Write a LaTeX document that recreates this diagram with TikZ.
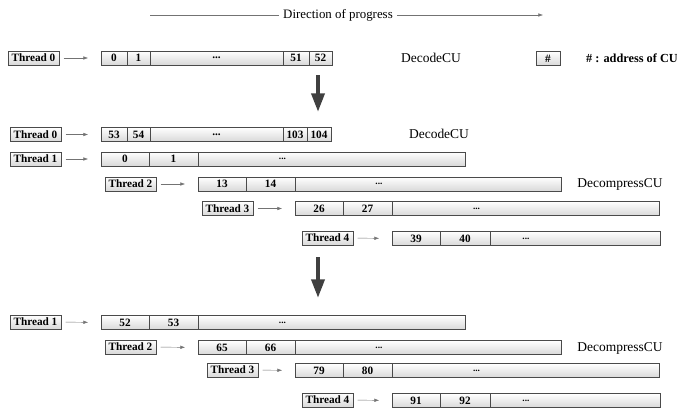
\documentclass[tikz,border=0pt]{standalone}
\usepackage{fontspec}
\setmainfont{Liberation Serif}
\usetikzlibrary{positioning,arrows.meta}
\definecolor{boxedge}{HTML}{4A4A4A}
\definecolor{arrowgray}{HTML}{404040}
\tikzset{
  cell/.style={draw=boxedge, top color=white, bottom color=black!15, minimum height=0.42cm,
    inner sep=0pt, outer sep=0pt, font=\fontsize{9.6}{11}\selectfont\bfseries},
  thread/.style={cell, inner xsep=3pt, anchor=west},
  flow/.style={draw=black!55, -{Latex[length=4pt,width=3pt]}, shorten <=4pt, shorten >=11pt},
  bigarrow/.style={draw=arrowgray, line width=3.5pt, -{Triangle[width=11pt,length=16pt]}},
  dots/.style={font=\footnotesize\bfseries, xshift=-1.47cm},
  cuname/.style={font=\fontsize{11.5}{13}\selectfont}
}
\begin{document}
\begin{tikzpicture}[x=0.03cm, y=-0.03cm]
  \useasboundingbox (0,0) rectangle (677,410);
  % direction of progress
  \node[font=\fontsize{11}{13}\selectfont] (dir) at (338,15) {Direction of progress};
  \coordinate (dirL) at (150,15);
  \coordinate (dirR) at (543,15);
  \draw[black!55] (dirL) -- (dir.west);
  \draw[black!55, -{Latex[length=4pt,width=3pt]}] (dir.east) -- (dirR);
  % legend
  \node[cell, minimum width=0.72cm] (lg) at (548,58.5) {\#};
  \node[anchor=west, font=\fontsize{10.5}{12}\selectfont\bfseries] (lgtext) at (582,58) {\# : address of CU};

  % stage 1
  \node[thread] (t1) at (8,58) {Thread 0};
  \node[cell, anchor=west, minimum width=0.78cm] (c1a) at (101,58) {0};
  \node[cell, minimum width=0.69cm, right=0pt of c1a] (c1b) {1};
  \node[cell, minimum width=3.99cm, right=0pt of c1b] (c1c) {...};
  \node[cell, minimum width=0.78cm, right=0pt of c1c] (c1d) {51};
  \node[cell, minimum width=0.69cm, right=0pt of c1d] (c1e) {52};
  \draw[flow] (t1) -- (c1a);
  \node[cuname] (cu1) at (431,58) {DecodeCU};

  \coordinate (s1a) at (318,75);
  \coordinate (s1b) at (318,112);
  \draw[bigarrow] (s1a) -- (s1b);

  % stage 2
  \node[thread] (t2) at (10,134.5) {Thread 0};
  \node[cell, anchor=west, minimum width=0.78cm] (c2a) at (101,134.5) {53};
  \node[cell, minimum width=0.69cm, right=0pt of c2a] (c2b) {54};
  \node[cell, minimum width=3.99cm, right=0pt of c2b] (c2c) {...};
  \node[cell, minimum width=0.72cm, right=0pt of c2c] (c2d) {103};
  \node[cell, minimum width=0.72cm, right=0pt of c2d] (c2e) {104};
  \draw[flow] (t2) -- (c2a);
  \node[cuname] (cu2) at (439,134) {DecodeCU};

  \node[thread] (t3) at (10,159) {Thread 1};
  \node[cell, anchor=west, minimum width=1.44cm] (c3a) at (101,159) {0};
  \node[cell, minimum width=1.47cm, right=0pt of c3a] (c3b) {1};
  \node[cell, minimum width=8.01cm, right=0pt of c3b, label={[dots]center:...}] (c3c) {};
  \draw[flow] (t3) -- (c3a);

  \node[thread] (t4) at (105,184) {Thread 2};
  \node[cell, anchor=west, minimum width=1.44cm] (c4a) at (198,184) {13};
  \node[cell, minimum width=1.47cm, right=0pt of c4a] (c4b) {14};
  \node[cell, minimum width=7.98cm, right=0pt of c4b, label={[dots]center:...}] (c4c) {};
  \draw[flow] (t4) -- (c4a);
  \node[cuname] (cu3) at (620,184) {DecompressCU};

  \node[thread] (t5) at (202,208.5) {Thread 3};
  \node[cell, anchor=west, minimum width=1.44cm] (c5a) at (295,208.5) {26};
  \node[cell, minimum width=1.47cm, right=0pt of c5a] (c5b) {27};
  \node[cell, minimum width=8.01cm, right=0pt of c5b, label={[dots]center:...}] (c5c) {};
  \draw[flow] (t5) -- (c5a);

  \node[thread] (t6) at (302,238) {Thread 4};
  \node[cell, anchor=west, minimum width=1.44cm] (c6a) at (392,238.5) {39};
  \node[cell, minimum width=1.5cm, right=0pt of c6a] (c6b) {40};
  \node[cell, minimum width=5.1cm, right=0pt of c6b, label={[dots]center:...}] (c6c) {};
  \draw[flow] (t6) -- (c6a);

  \coordinate (s2a) at (318,257);
  \coordinate (s2b) at (318,298);
  \draw[bigarrow] (s2a) -- (s2b);

  % stage 3
  \node[thread] (t7) at (10,322) {Thread 1};
  \node[cell, anchor=west, minimum width=1.44cm] (c7a) at (101,322.5) {52};
  \node[cell, minimum width=1.47cm, right=0pt of c7a] (c7b) {53};
  \node[cell, minimum width=8.01cm, right=0pt of c7b, label={[dots]center:...}] (c7c) {};
  \draw[flow] (t7) -- (c7a);

  \node[thread] (t8) at (105,347) {Thread 2};
  \node[cell, anchor=west, minimum width=1.44cm] (c8a) at (198,347.5) {65};
  \node[cell, minimum width=1.47cm, right=0pt of c8a] (c8b) {66};
  \node[cell, minimum width=7.98cm, right=0pt of c8b, label={[dots]center:...}] (c8c) {};
  \draw[flow] (t8) -- (c8a);
  \node[cuname] (cu4) at (620,348) {DecompressCU};

  \node[thread] (t9) at (207,370) {Thread 3};
  \node[cell, anchor=west, minimum width=1.44cm] (c9a) at (295,370.5) {79};
  \node[cell, minimum width=1.47cm, right=0pt of c9a] (c9b) {80};
  \node[cell, minimum width=8.01cm, right=0pt of c9b, label={[dots]center:...}] (c9c) {};
  \draw[flow] (t9) -- (c9a);

  \node[thread] (t10) at (302,400) {Thread 4};
  \node[cell, anchor=west, minimum width=1.44cm] (c10a) at (392,400.5) {91};
  \node[cell, minimum width=1.5cm, right=0pt of c10a] (c10b) {92};
  \node[cell, minimum width=5.1cm, right=0pt of c10b, label={[dots]center:...}] (c10c) {};
  \draw[flow] (t10) -- (c10a);
\end{tikzpicture}
\end{document}
